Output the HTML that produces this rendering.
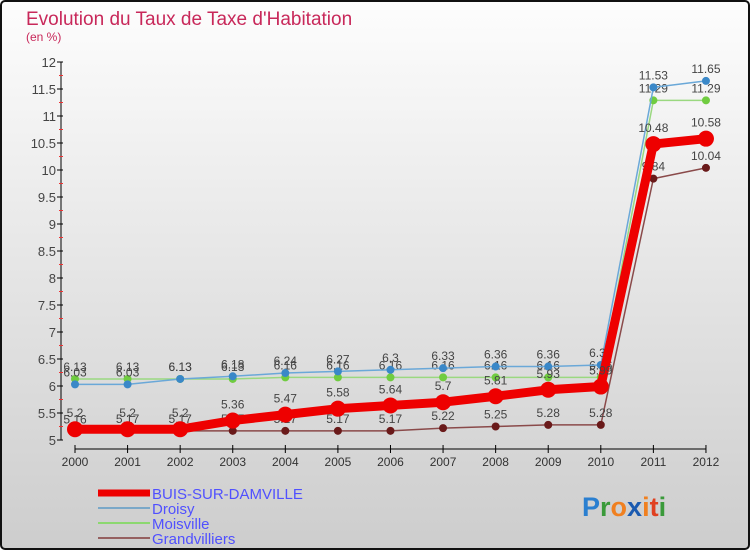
<!DOCTYPE html>
<html><head><meta charset="utf-8"><style>
body{margin:0;width:750px;height:550px;overflow:hidden;font-family:"Liberation Sans",sans-serif}
svg{display:block}
</style></head><body>
<svg id="chart" width="750" height="550" xmlns="http://www.w3.org/2000/svg">
<defs><linearGradient id="bg" x1="0" y1="0" x2="0" y2="1"><stop offset="0" stop-color="#fdfdfd"/><stop offset="1" stop-color="#cdcdcd"/></linearGradient></defs>
<rect x="1" y="1" width="748" height="548" rx="4" fill="url(#bg)" stroke="#111" stroke-width="2"/>
<text x="26" y="25" font-size="19" fill="#c8285a">Evolution du Taux de Taxe d'Habitation</text>
<text x="26" y="41" font-size="12" fill="#c8285a">(en %)</text>
<g id="axes"></g><g id="series"></g>
<g font-size="15" fill="#5050ff">
<line x1="98" y1="493" x2="150" y2="493" stroke="#e00" stroke-width="7"/><text x="152" y="499">BUIS-SUR-DAMVILLE</text>
<line x1="98" y1="508" x2="150" y2="508" stroke="#7aa8c8" stroke-width="2"/><text x="152" y="514">Droisy</text>
<line x1="98" y1="523" x2="150" y2="523" stroke="#8cd870" stroke-width="2"/><text x="152" y="529">Moisville</text>
<line x1="98" y1="538" x2="150" y2="538" stroke="#956060" stroke-width="2"/><text x="152" y="544">Grandvilliers</text>
</g>
<text x="582" y="516" font-size="27" font-weight="bold"><tspan fill="#2a7fd0">P</tspan><tspan fill="#3a9a3a">r</tspan><tspan fill="#f08020">o</tspan><tspan fill="#1a5ab0">x</tspan><tspan fill="#f08020">i</tspan><tspan fill="#e04020">t</tspan><tspan fill="#3a9a3a">i</tspan></text>
</svg>
<script>
const years=[2000,2001,2002,2003,2004,2005,2006,2007,2008,2009,2010,2011,2012];
const yTicks=[5,5.5,6,6.5,7,7.5,8,8.5,9,9.5,10,10.5,11,11.5,12];
const buis=[5.2,5.2,5.2,5.36,5.47,5.58,5.64,5.7,5.81,5.93,5.99,10.48,10.58];
const droisy=[6.03,6.03,6.13,6.18,6.24,6.27,6.3,6.33,6.36,6.36,6.39,11.53,11.65];
const moisville=[6.13,6.13,6.13,6.13,6.16,6.16,6.16,6.16,6.16,6.16,6.16,11.29,11.29];
const grandvilliers=[5.16,5.17,5.17,5.17,5.17,5.17,5.17,5.22,5.25,5.28,5.28,9.84,10.04];
const NS="http://www.w3.org/2000/svg";
const X=i=>75+i*52.58, Y=v=>440-(v-5)*54;
function mk(t,a,p){const e=document.createElementNS(NS,t);for(const k in a)e.setAttribute(k,a[k]);p.appendChild(e);return e;}
const ax=document.getElementById('axes');
const yl=mk('line',{x1:61,y1:Y(12),x2:61,y2:Y(5),stroke:'#000'},ax);


yTicks.forEach(v=>{
  mk('line',{x1:57,y1:Y(v),x2:63,y2:Y(v),stroke:'#000'},ax);
  mk('line',{x1:59,y1:Y(v+0.25),x2:63,y2:Y(v+0.25),stroke:v<12?'#e33':'none'},ax);
  const t=mk('text',{x:56,y:Y(v)+5,'text-anchor':'end','font-size':13,fill:'#444'},ax);
  
  
  t.textContent=v;
});
const xl=mk('line',{x1:X(0),y1:449,x2:X(12),y2:449,stroke:'#000'},ax);


years.forEach((y,i)=>{
  mk('line',{x1:X(i),y1:445,x2:X(i),y2:453,stroke:'#000'},ax);
  const t=mk('text',{x:X(i),y:466,'text-anchor':'middle','font-size':12,fill:'#333'},ax);
  
  
  t.textContent=y;
});
const sg=document.getElementById('series');
const series=[
 {d:grandvilliers,c:'#8a4a4a',dot:'#6a1a1a',w:1.5,r:4,n:'grandvilliers'},
 {d:moisville,c:'#9ad880',dot:'#70cc40',w:1.5,r:4,n:'moisville'},
 {d:droisy,c:'#6aa8d8',dot:'#3a88c8',w:1.5,r:4,n:'droisy'},
 {d:buis,c:'#ee0000',dot:'#ee0000',w:9,r:8,n:'buis-sur-damville'}];
series.forEach(s=>{
  const g=mk('g',{},sg);
  
  
  const pl=mk('polyline',{points:s.d.map((v,i)=>X(i)+','+Y(v)).join(' '),fill:'none',stroke:s.c,'stroke-width':s.w,'stroke-linejoin':'round'},g);
  
  
  s.d.forEach((v,i)=>{
    const c=mk('circle',{cx:X(i),cy:Y(v),r:s.r,fill:s.dot},g);
    
    
    const t=mk('text',{x:X(i),y:Y(v)-s.r-4,'text-anchor':'middle','font-size':12,fill:'#444'},g);
    
    
    t.textContent=v;
  });
});
</script>
</body></html>
